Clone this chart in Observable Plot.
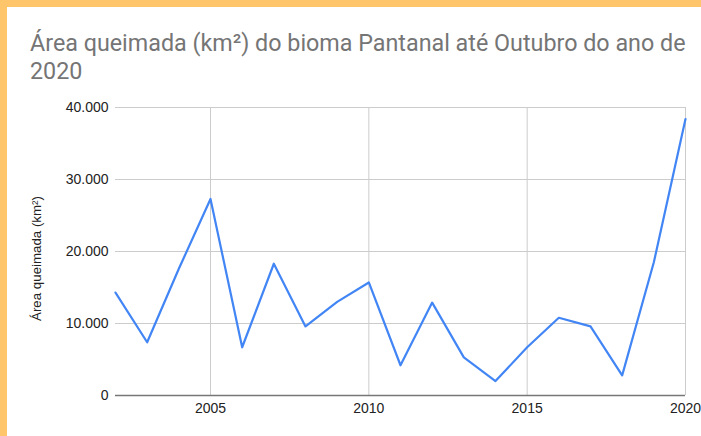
<!DOCTYPE html>
<html><head><meta charset="utf-8">
<script src="https://cdn.jsdelivr.net/npm/d3@7"></script>
<script src="https://cdn.jsdelivr.net/npm/@observablehq/plot@0.6"></script>
<style>
body{margin:0;}
#frame{position:relative;width:701px;height:436px;background:#FFC56B;overflow:hidden;}
#inner{position:absolute;left:7px;top:7px;width:694px;height:429px;background:#fff;}
#title{position:absolute;left:23px;top:22px;font:23.3px Roboto, sans-serif;color:#757575;line-height:28px;white-space:nowrap;}
#chart{position:absolute;left:0;top:0;}
</style>
</head><body>
<div id="frame"><div id="inner"><div id="chart"></div><div id="title">Área queimada (km²) do bioma Pantanal até Outubro do ano de<br>2020</div></div></div>
<script>
const years = [2002,2003,2004,2005,2006,2007,2008,2009,2010,2011,2012,2013,2014,2015,2016,2017,2018,2019,2020];
const areas = [14300,7400,17600,27300,6700,18300,9600,13000,15700,4200,12900,5300,2000,6700,10800,9600,2800,18500,38400];
const yTicks = [0,10000,20000,30000,40000];
const xTicks = [2005,2010,2015,2020];
const yLabel = "Área queimada (km²)";

const data = years.map((y,i)=>({year:y, area:areas[i]}));
const fmt = d3.formatLocale({decimal:",", thousands:".", grouping:[3], currency:["R$",""]}).format(",d");

const chart = Plot.plot({
  width: 694, height: 429,
  marginLeft: 108, marginRight: 16, marginTop: 100, marginBottom: 41,
  style: {background:"transparent", fontFamily:"Liberation Sans, Arial, sans-serif", fontSize:"14px", color:"#222"},
  x: {domain:[2002,2020], ticks: xTicks, tickFormat: d=>String(d), tickSize:0, tickPadding:8, label:null},
  y: {domain:[0,40000], ticks: yTicks, tickFormat: fmt, tickSize:0, tickPadding:7, label:null},
  marks: [
    Plot.ruleY(yTicks.filter(d=>d>0), {stroke:"#ccc", strokeWidth:1}),
    Plot.ruleX(xTicks, {stroke:"#ccc", strokeWidth:1}),
    Plot.ruleY([0], {stroke:"#777", strokeWidth:1.5}),
    Plot.line(data, {x:"year", y:"area", stroke:"#4285F4", strokeWidth:2.2}),
    Plot.text([yLabel], {text:d=>d, frameAnchor:"left", textAnchor:"middle", dx:-79, dy:7, rotate:-90, fontSize:13.3, fill:"#222"})
  ]
});
document.getElementById("chart").appendChild(chart);
</script>
</body></html>
